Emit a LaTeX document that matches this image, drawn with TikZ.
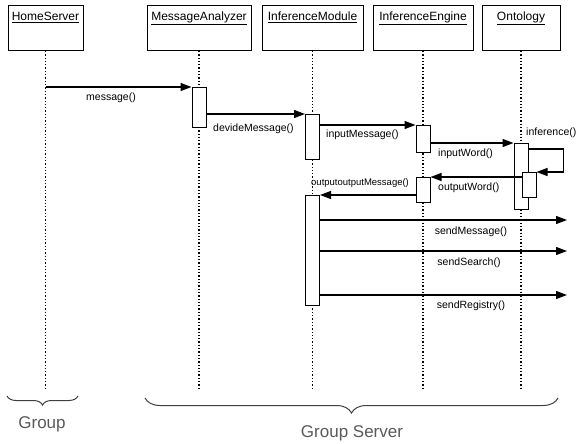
\documentclass[tikz,border=0pt]{standalone}
\usepackage{fontspec}
\setmainfont{Liberation Sans}
\usepackage{tikz}
\usetikzlibrary{positioning,arrows.meta,decorations.pathreplacing}

\begin{document}
\begin{tikzpicture}[x=1pt,y=-1pt,
		obj/.style={draw, line width=1pt, anchor=north, font=\fontsize{12}{14}\selectfont, text height=9pt, text depth=24pt, inner ysep=6pt, inner xsep=2pt},
		act/.style={draw, line width=1pt, fill=white, anchor=north, minimum width=14pt, inner sep=0pt},
		life/.style={dotted, line width=1.3pt},
		msg/.style={line width=1.2pt, -{Triangle[length=11pt,width=8pt]}},
		lbl/.style={font=\fontsize{10.5}{12}\selectfont, inner sep=1pt},
		grp/.style={font=\fontsize{17}{20}\selectfont, text=black!65},
		brc/.style={decorate, decoration={brace, mirror, amplitude=#1}, line width=1pt, black!75}]
	\useasboundingbox (0,0) rectangle (578,444);
	\foreach \n/\x/\w/\t in {hs/45.5/75/HomeServer, ma/199/104/MessageAnalyzer, im/312.5/101/InferenceModule, ie/423/100/InferenceEngine, on/521/78/Ontology} {
		\node[obj, minimum width=\w] (\n) at (\x,5) {\underline{\t}};
		\coordinate (\n-end) at (\x,388);
		\draw[life] (\n.south) -- (\n-end);
	}
	\node[act, minimum height=40] (ma1) at (ma |- 0,87) {};
	\node[act, minimum height=45] (im1) at (im |- 0,114) {};
	\node[act, minimum height=27] (ie1) at (ie |- 0,125) {};
	\node[act, minimum height=66] (on1) at (on |- 0,143) {};
	\node[act, minimum height=25, xshift=8pt] (on2) at (on |- 0,172) {};
	\node[act, minimum height=25] (ie2) at (ie |- 0,177) {};
	\node[act, minimum height=110] (im2) at (im |- 0,195) {};
	\coordinate (hs-msg) at (hs |- ma1.north);
	\draw[msg] (hs-msg) -- (ma1.north west);
	\draw[msg] (ma1.east |- im1.north) -- (im1.north west);
	\draw[msg] (im1.east |- ie1.north) -- (ie1.north west);
	\draw[msg] (ie1.east |- on1.north) -- (on1.north west);
	\draw[msg] ([yshift=-6pt]on1.north east) -- ++(35,0) |- (on2.north east);
	\draw[msg] (on2.west |- ie2.north) -- (ie2.north east);
	\draw[msg] (ie2.west |- im2.north) -- (im2.north east);
	\foreach \m/\y in {smsg/220, ssrch/251, sreg/295} {
		\coordinate (\m) at (567,\y);
		\draw[msg] (im2.east |- \m) -- (\m);
	}
	\node[lbl, anchor=west] (l-msg) at (85,98) {message()};
	\node[lbl, anchor=west] (l-dev) at (212,129) {devideMessage()};
	\node[lbl, anchor=west] (l-inmsg) at (325,135) {inputMessage()};
	\node[lbl, anchor=west] (l-inword) at (437,154) {inputWord()};
	\node[lbl, anchor=west] (l-inf) at (525,133) {inference()};
	\node[lbl, anchor=west] (l-outword) at (437,188) {outputWord()};
	\node[lbl, anchor=west, font=\fontsize{9.5}{11}\selectfont] (l-outmsg) at (310,183) {outputoutputMessage()};
	\node[lbl] (l-smsg) at (471,232) {sendMessage()};
	\node[lbl] (l-ssrch) at (469,263) {sendSearch()};
	\node[lbl] (l-sreg) at (471,306) {sendRegistry()};
	\coordinate (g1) at (7,396);
	\coordinate (g2) at (78,396);
	\draw[brc=9pt] (g1) -- (g2);
	\coordinate (gs1) at (145,398);
	\coordinate (gs2) at (558,398);
	\draw[brc=15pt] (gs1) -- (gs2);
	\node[grp] (grp) at (42,424) {Group};
	\node[grp] (grpsrv) at (352,433) {Group Server};
\end{tikzpicture}
\end{document}
